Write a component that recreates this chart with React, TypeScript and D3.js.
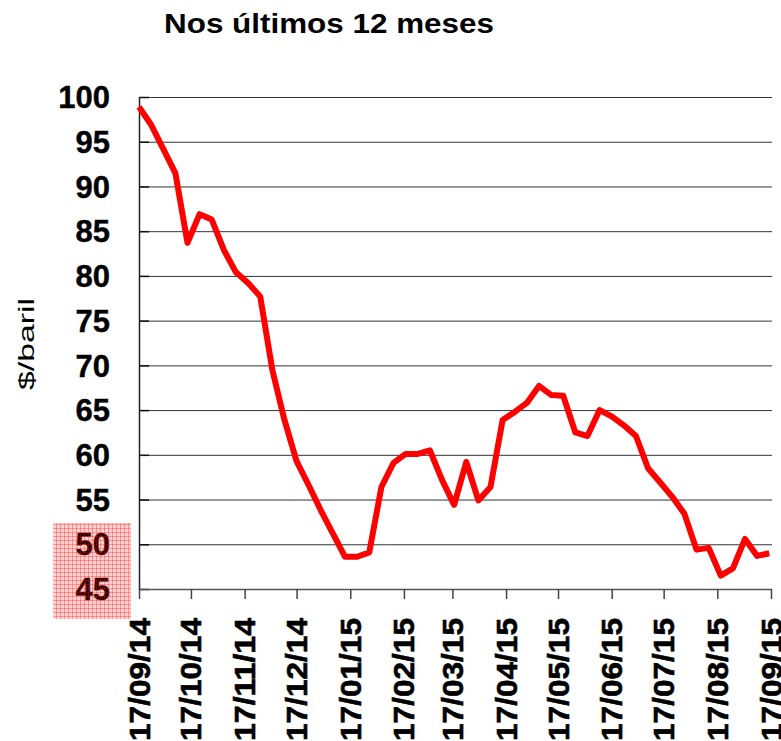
import React from "react";
import * as d3 from "d3";

const dates: string[] = [
  "2014-09-17", "2014-09-24", "2014-10-01", "2014-10-08", "2014-10-15", "2014-10-22", "2014-10-29",
  "2014-11-05", "2014-11-12", "2014-11-19", "2014-11-26", "2014-12-03", "2014-12-10", "2014-12-17",
  "2014-12-24", "2014-12-31", "2015-01-07", "2015-01-14", "2015-01-21", "2015-01-28", "2015-02-04",
  "2015-02-11", "2015-02-18", "2015-02-25", "2015-03-04", "2015-03-11", "2015-03-18", "2015-03-25",
  "2015-04-01", "2015-04-08", "2015-04-15", "2015-04-22", "2015-04-29", "2015-05-06", "2015-05-13",
  "2015-05-20", "2015-05-27", "2015-06-03", "2015-06-10", "2015-06-17", "2015-06-24", "2015-07-01",
  "2015-07-08", "2015-07-15", "2015-07-22", "2015-07-29", "2015-08-05", "2015-08-12", "2015-08-19",
  "2015-08-26", "2015-09-02", "2015-09-09", "2015-09-16",
];

const prices: number[] = [
  98.9, 96.9, 94.2, 91.5, 83.7, 86.9, 86.3, 82.9, 80.4, 79.2, 77.7, 69.5, 63.9, 59.3,
  56.6, 53.8, 51.2, 48.6, 48.6, 49.1, 56.4, 59.1, 60.1, 60.1, 60.5, 57.2, 54.4, 59.2,
  54.9, 56.4, 63.9, 64.8, 65.8, 67.7, 66.7, 66.6, 62.5, 62.1, 65.0, 64.3, 63.3, 62.1,
  58.5, 56.9, 55.3, 53.4, 49.4, 49.6, 46.5, 47.3, 50.6, 48.7, 49.0,
];

const yTicks: number[] = [45, 50, 55, 60, 65, 70, 75, 80, 85, 90, 95, 100];

const xTickLabels: string[] = [
  "17/09/14", "17/10/14", "17/11/14", "17/12/14", "17/01/15", "17/02/15", "17/03/15",
  "17/04/15", "17/05/15", "17/06/15", "17/07/15", "17/08/15", "17/09/15",
];

const title = "Nos últimos 12 meses";
const yTitle = "$/baril";

const parseISO = d3.timeParse("%Y-%m-%d");
const parseLabel = d3.timeParse("%d/%m/%y");

export default function App() {
  const W = 781;
  const H = 741;
  const left = 139;
  const right = 771;
  const top = 97;
  const bottom = 589;

  const x = d3
    .scaleTime()
    .domain([parseISO("2014-09-17") as Date, parseISO("2015-09-17") as Date])
    .range([left, right]);
  const y = d3.scaleLinear().domain([45, 100]).range([bottom, top]);

  const data = dates.map((d, i) => ({ date: parseISO(d) as Date, v: prices[i] }));
  const line = d3
    .line<{ date: Date; v: number }>()
    .x((d) => x(d.date))
    .y((d) => y(d.v));

  const font = "Arial, 'Liberation Sans', Helvetica, sans-serif";

  return (
    <svg
      width={W}
      height={H}
      style={{ position: "absolute", left: 0, top: 0, background: "#fff" }}
      fontFamily={font}
    >
      <defs>
        <pattern id="hatch" width={4} height={4} patternUnits="userSpaceOnUse">
          <rect width={4} height={4} fill="rgba(255,0,0,0.18)" />
          <rect x={0} y={0} width={4} height={1} fill="rgba(255,0,0,0.3)" />
          <rect x={0} y={0} width={1} height={4} fill="rgba(255,0,0,0.3)" />
        </pattern>
      </defs>
      <rect width={W} height={H} fill="#fff" />

      <text x={164} y={33} fontSize={28} fontWeight="bold" textLength={330} lengthAdjust="spacingAndGlyphs">
        {title}
      </text>

      {/* gridlines */}
      {yTicks.map((t) => (
        <line key={"g" + t} x1={left} x2={right + 1} y1={y(t) + 0.5} y2={y(t) + 0.5} stroke="#333" strokeWidth={1} />
      ))}
      {/* y inner ticks */}
      {yTicks.map((t) => (
        <line key={"yt" + t} x1={left} x2={left + 10} y1={y(t) + 0.5} y2={y(t) + 0.5} stroke="#111" strokeWidth={1.5} />
      ))}
      {/* axes */}
      <line x1={left + 0.5} x2={left + 0.5} y1={top} y2={bottom + 1} stroke="#222" strokeWidth={1.5} />
      <line x1={left} x2={right + 1} y1={bottom + 0.5} y2={bottom + 0.5} stroke="#555" strokeWidth={1.5} />
      {xTickLabels.map((l) => {
        const xv = x(parseLabel(l) as Date);
        return (
          <line key={"xt" + l} x1={xv + 0.5} x2={xv + 0.5} y1={bottom} y2={bottom + 10} stroke="#444" strokeWidth={1.5} />
        );
      })}

      {/* y labels */}
      {yTicks.map((t) => (
        <text
          key={"yl" + t}
          x={110}
          y={y(t)}
          dy="0.36em"
          fontSize={31}
          fontWeight="bold"
          textAnchor="end"
          stroke="#000"
          strokeWidth={0.4}
        >
          {t}
        </text>
      ))}

      {/* x labels */}
      {xTickLabels.map((l) => {
        const xv = x(parseLabel(l) as Date);
        return (
          <text
            key={"xl" + l}
            transform={`translate(${xv + 10.5},618) rotate(-90)`}
            fontSize={29}
            fontWeight="bold"
            textAnchor="end"
            textLength={123}
            lengthAdjust="spacingAndGlyphs"
            stroke="#000"
            strokeWidth={0.6}
          >
            {l}
          </text>
        );
      })}

      {/* y title */}
      <text
        transform={`translate(34,344) rotate(-90)`}
        fontSize={22}
        textAnchor="middle"
        textLength={92}
        lengthAdjust="spacingAndGlyphs"
      >
        {yTitle}
      </text>

      {/* data line */}
      <path d={line(data) || ""} fill="none" stroke="#ff0000" strokeWidth={6} strokeLinejoin="round" />

      {/* pink hatched box */}
      <rect x={53} y={523} width={78} height={96} fill="url(#hatch)" />
    </svg>
  );
}
